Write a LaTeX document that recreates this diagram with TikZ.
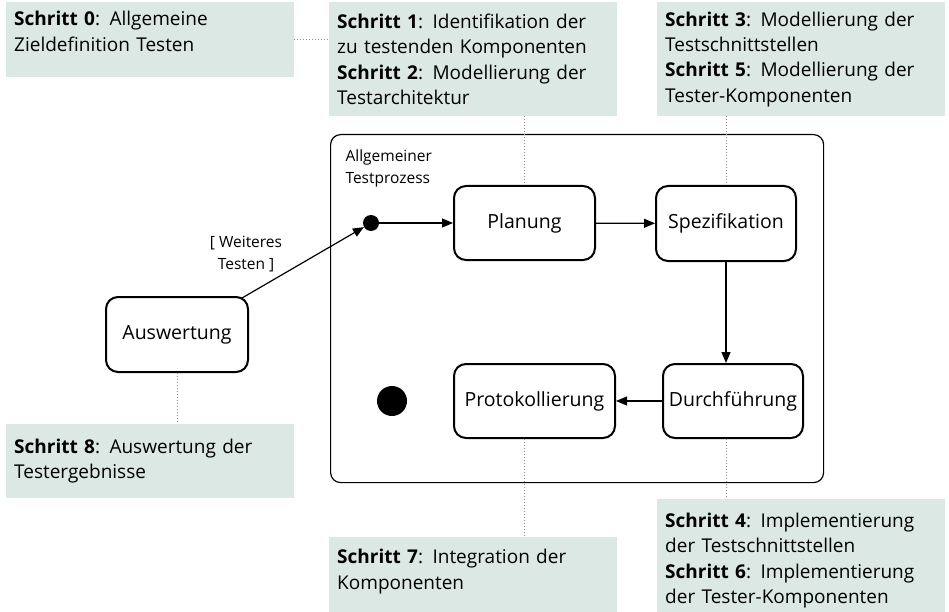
\documentclass[tikz,border=0pt]{standalone}
\usepackage{fontspec}
\setmainfont{Open Sans}
\usetikzlibrary{arrows.meta,positioning}
\definecolor{notegreen}{RGB}{220,232,227}
\definecolor{dotgray}{RGB}{140,140,140}

\tikzset{
  note/.style={fill=notegreen,anchor=north west,minimum width=288pt,text width=272pt,
    inner xsep=8pt,align=left,font=\fontsize{19}{25.3}\selectfont},
  state/.style={draw,line width=2pt,rounded corners=12pt,minimum width=140pt,
    minimum height=74pt,font=\fontsize{19.5}{24}\selectfont},
  small/.style={align=left,font=\fontsize{15.5}{22}\selectfont},
  flow/.style={line width=1.2pt,-{Triangle[length=11pt,width=9pt]}},
  link/.style={dotgray,line width=0.8pt,dash pattern=on 0.8pt off 2.2pt}
}

\begin{document}
\begin{tikzpicture}[x=1pt,y=-1pt]
\useasboundingbox (0,0) rectangle (949,612);
% Schritte oben
\node[note,minimum height=75pt,text depth=42pt] (s0) at (6,2)
  {\textbf{Schritt 0}: Allgemeine\\Zieldefinition Testen};
\node[note,minimum height=114pt] (s12) at (329,2)
  {\textbf{Schritt 1}: Identifikation der\\zu testenden Komponenten\\
   \textbf{Schritt 2}: Modellierung der\\Testarchitektur};
\node[note,minimum height=114pt] (s35) at (657,2)
  {\textbf{Schritt 3}: Modellierung der\\Testschnittstellen\\
   \textbf{Schritt 5}: Modellierung der\\Tester-Komponenten};

% Testprozess
\node[draw,line width=1.2pt,rounded corners=10pt,anchor=north west,
  minimum width=493pt,minimum height=348pt] (proc) at (330,134) {};
\node[small,anchor=north west] (proclbl) at (342,146) {Allgemeiner\\Testprozess};
\node[circle,fill,inner sep=0pt,minimum size=16pt] (start) at (371,223) {};
\node[circle,fill,inner sep=0pt,minimum size=30pt] (stop) at (392,401) {};
\node[state,minimum width=141pt] (plan) at (524.5,223) {Planung};
\node[state,minimum height=75pt] (spez) at (726,223.5) {Spezifikation};
\node[state] (durch) at (733,401) {Durchführung};
\node[state,minimum width=161pt] (proto) at (534.5,401) {Protokollierung};
\node[state,minimum width=142pt,minimum height=75pt] (ausw) at (177,334.5) {Auswertung};
\node[small,align=center] (guard) at (246,254) {[ Weiteres\\Testen ]};

\draw[flow] (start) -- (plan);
\draw[flow] (plan) -- (spez);
\draw[flow] (spez.south) -- (spez.south |- durch.north);
\draw[flow] (durch) -- (proto);
\draw[flow] ([shift={(-7,2)}]ausw.north east) -- (start);

% Schritte unten
\node[note,minimum height=74pt] (s8) at (6,424)
  {\textbf{Schritt 8}: Auswertung der\\Testergebnisse};
\node[note,minimum height=75pt,text depth=36pt] (s7) at (329,537)
  {\textbf{Schritt 7}: Integration der\\Komponenten};
\node[note,minimum height=113pt,text height=24pt] (s46) at (657,499)
  {\textbf{Schritt 4}: Implementierung\\der Testschnittstellen\\
   \textbf{Schritt 6}: Implementierung\\der Tester-Komponenten};

% Zuordnung Schritt - Zustand
\draw[link] (s0.east) -- (s0.east -| s12.west);
\draw[link] (s12.south -| plan.north) -- (plan.north);
\draw[link] (s35.south -| spez.north) -- (spez.north);
\draw[link] (ausw.south) -- (ausw.south |- s8.north);
\draw[link] (proto.south -| plan.south) -- (s7.north -| plan.south);
\draw[link] (durch.south -| spez.south) -- (s46.north -| spez.south);
\end{tikzpicture}
\end{document}
